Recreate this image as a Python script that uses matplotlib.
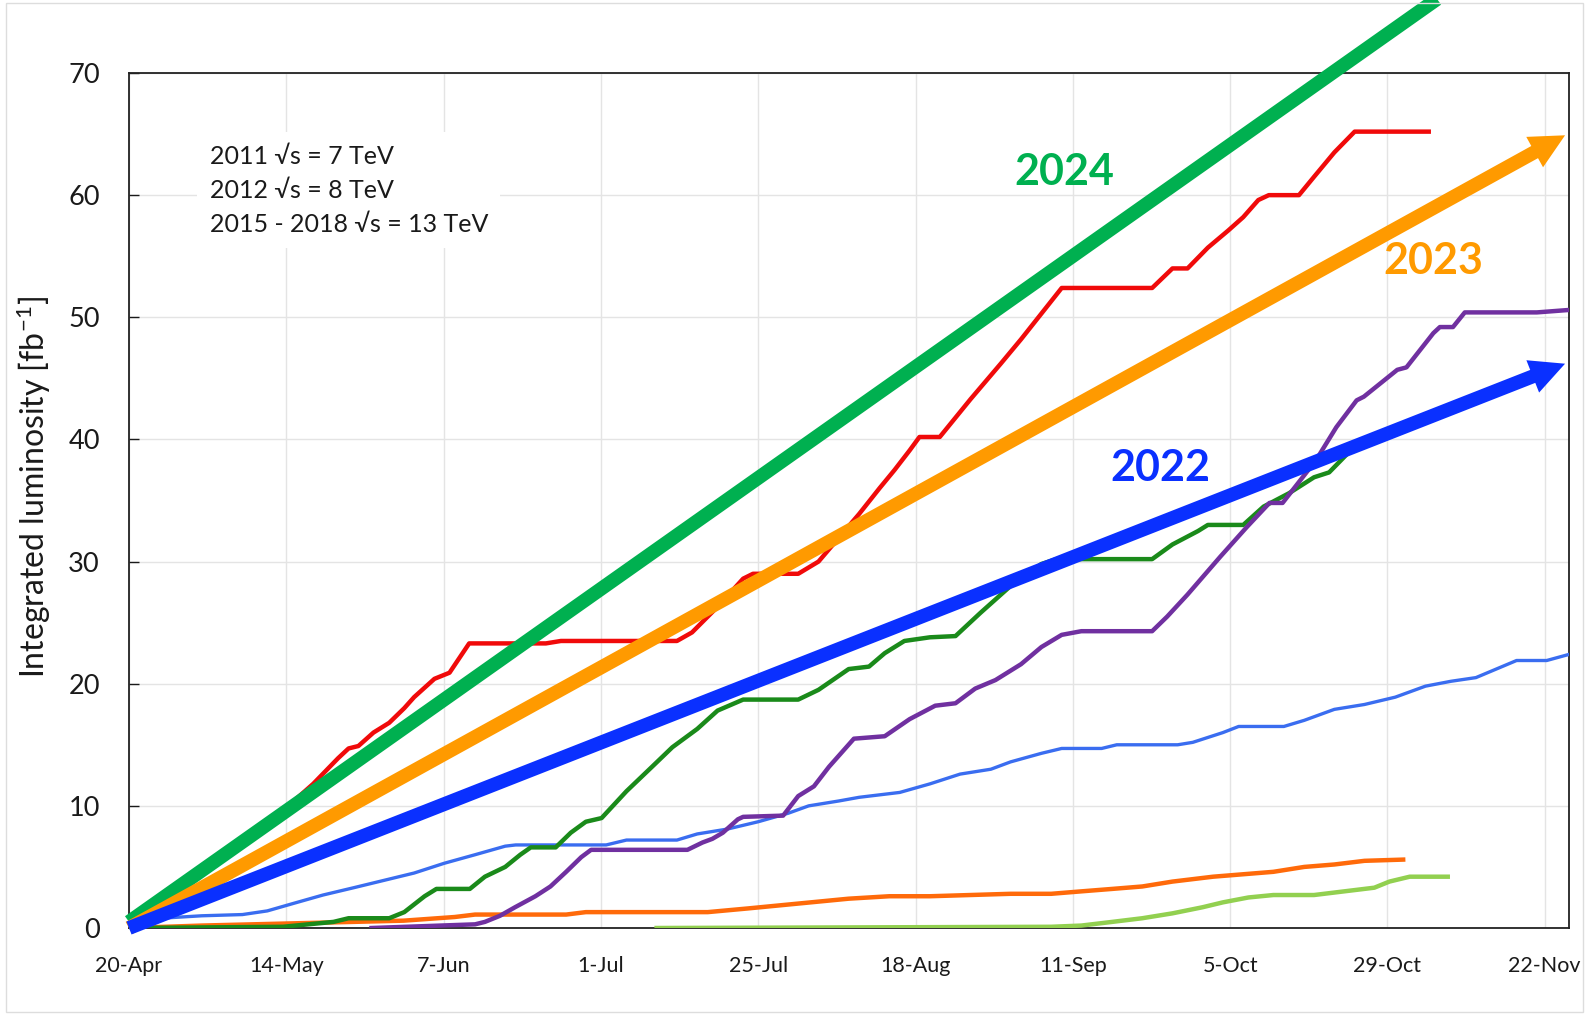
import numpy as np
import matplotlib
matplotlib.use("Agg")
import matplotlib.pyplot as plt
from matplotlib.patches import Rectangle

plt.rcParams['font.family'] = ['Lato', 'DejaVu Sans']
plt.rcParams['mathtext.fontset'] = 'custom'
plt.rcParams['mathtext.rm'] = 'Lato'
plt.rcParams['mathtext.it'] = 'Lato:italic'

# ======= data: days since 20-Apr, integrated luminosity in fb^-1 =======
tick_days = [0, 24, 48, 72, 96, 120, 144, 168, 192, 216]
tick_labels = ["20-Apr", "14-May", "7-Jun", "1-Jul", "25-Jul",
               "18-Aug", "11-Sep", "5-Oct", "29-Oct", "22-Nov"]

red_d = [0, 3.4, 6.5, 11.1, 17.3, 24.1, 28.1, 31.9, 33.5, 35.0, 37.3, 39.7, 42.0, 43.5,
         46.6, 48.9, 51.9, 63.6, 65.9, 83.6, 85.9, 89.8, 93.7, 95.2, 102.1, 105.2, 111.4,
         114.5, 116.8, 119.1, 120.6, 123.7, 128.4, 133.0, 136.1, 139.2, 142.3, 156.1, 159.2,
         161.5, 164.6, 167.7, 170.0, 172.3, 173.9, 178.5, 180.8, 183.9, 187.0, 198.3]
red_v = [0, 0.6, 1.9, 4.6, 7.0, 9.9, 11.8, 13.9, 14.7, 14.9, 16.0, 16.8, 18.0, 18.9,
         20.4, 20.9, 23.3, 23.3, 23.5, 23.5, 24.2, 26.3, 28.6, 29.0, 29.0, 30.0, 33.9,
         36.0, 37.5, 39.1, 40.2, 40.2, 43.3, 46.2, 48.2, 50.3, 52.4, 52.4, 54.0,
         54.0, 55.7, 57.1, 58.2, 59.6, 60.0, 60.0, 61.5, 63.5, 65.2, 65.2]

dgreen_d = [0, 23.5, 31.2, 33.5, 39.7, 42.0, 45.1, 46.9, 52.0, 54.3, 57.4, 59.7, 61.3,
            65.1, 67.4, 69.7, 72.1, 75.9, 79.8, 82.9, 86.7, 89.8, 93.7, 102.1, 105.2,
            109.8, 112.9, 115.3, 118.3, 122.2, 126.1, 129.9, 134.5, 139.2, 141.5, 156.1,
            159.2, 163.1, 164.6, 170.0, 173.1, 177.0, 180.8, 183.1, 186.2]
dgreen_v = [0, 0.1, 0.5, 0.8, 0.8, 1.3, 2.6, 3.2, 3.2, 4.2, 5.0, 6.0, 6.6,
            6.6, 7.8, 8.7, 9.0, 11.2, 13.2, 14.8, 16.3, 17.8, 18.7, 18.7, 19.5,
            21.2, 21.4, 22.5, 23.5, 23.8, 23.9, 25.8, 28.0, 29.8, 30.2, 30.2,
            31.4, 32.5, 33.0, 33.0, 34.5, 35.6, 36.9, 37.3, 39.0]

purple_d = [37.0, 52.8, 54.3, 56.6, 58.9, 62.0, 64.3, 66.7, 69.0, 70.5, 85.2, 87.5, 89.0,
            90.6, 92.9, 93.7, 99.8, 102.1, 104.5, 106.8, 110.6, 115.3, 119.1, 123.0,
            126.1, 129.1, 132.2, 136.1, 139.2, 142.3, 145.3, 156.1, 158.4, 161.5, 166.5,
            170.5, 174.0, 176.0, 181.1, 184.2, 187.3, 188.4, 193.5, 194.9, 199.0, 200.0,
            202.0, 203.8, 214.8, 219.7]
purple_v = [0, 0.3, 0.5, 1.0, 1.7, 2.6, 3.4, 4.6, 5.8, 6.4, 6.4, 7.0, 7.3,
            7.8, 8.9, 9.1, 9.2, 10.8, 11.6, 13.2, 15.5, 15.7, 17.1, 18.2,
            18.4, 19.6, 20.3, 21.6, 23.0, 24.0, 24.3, 24.3, 25.5, 27.3, 30.4,
            32.8, 34.8, 34.8, 38.3, 41.0, 43.2, 43.5, 45.7, 45.9, 48.7, 49.2,
            49.2, 50.4, 50.4, 50.6]

lblue_d = [0, 4.9, 11.1, 17.3, 21.1, 25.0, 29.6, 34.3, 38.9, 43.5, 48.1, 52.8, 57.4, 59.0,
           72.8, 75.9, 83.6, 86.7, 91.3, 96.0, 100.6, 103.7, 108.3, 111.4, 117.6, 122.2,
           126.8, 131.5, 134.5, 139.2, 142.3, 148.4, 150.7, 160.0, 162.3, 166.9, 169.3,
           176.2, 179.3, 183.9, 188.5, 193.2, 197.8, 201.7, 205.5, 208.6, 211.7, 216.3, 219.7]
lblue_v = [0.8, 0.8, 1.0, 1.1, 1.4, 2.0, 2.7, 3.3, 3.9, 4.5, 5.3, 6.0, 6.7, 6.8,
           6.8, 7.2, 7.2, 7.7, 8.1, 8.7, 9.4, 10.0, 10.4, 10.7, 11.1, 11.8,
           12.6, 13.0, 13.6, 14.3, 14.7, 14.7, 15.0, 15.0, 15.2, 16.0, 16.5,
           16.5, 17.0, 17.9, 18.3, 18.9, 19.8, 20.2, 20.5, 21.2, 21.9, 21.9, 22.4]

orange_d = [0, 11.1, 26.5, 41.9, 49.7, 52.8, 66.7, 69.7, 88.3, 94.4, 102.1, 109.8, 116.0,
            122.2, 134.5, 140.7, 145.3, 150.0, 154.6, 159.2, 165.4, 170.0, 174.6, 179.3,
            183.9, 188.5, 194.4]
orange_v = [0, 0.2, 0.4, 0.6, 0.9, 1.1, 1.1, 1.3, 1.3, 1.6, 2.0, 2.4, 2.6,
            2.6, 2.8, 2.8, 3.0, 3.2, 3.4, 3.8, 4.2, 4.4, 4.6, 5.0,
            5.2, 5.5, 5.6]

lgreen_d = [80.5, 140.7, 145.3, 150.0, 154.6, 159.2, 163.8, 166.9, 170.8, 174.6, 180.8,
            185.4, 190.0, 192.3, 195.4, 201.2]
lgreen_v = [0, 0.1, 0.2, 0.5, 0.8, 1.2, 1.7, 2.1, 2.5, 2.7, 2.7,
            3.0, 3.3, 3.8, 4.2, 4.2]

# projected straight-line trends (start, end) per year
trend_2024 = ([0, 215.0], [0.5, 81.9])
trend_2023 = ([0, 219.1], [0, 64.9])
trend_2022 = ([0, 219.1], [0, 46.2])

C_RED = "#F00A0A"
C_DGREEN = "#1A8A1A"
C_PURPLE = "#7030A0"
C_LBLUE = "#3A6DF0"
C_ORANGE = "#FF6A0A"
C_LGREEN = "#92D050"
C_2024 = "#00B050"
C_2023 = "#FF9A00"
C_2022 = "#0A30FF"

fig = plt.figure(figsize=(15.85, 10.15), dpi=100)
ax = fig.add_axes([129 / 1585, 1 - 928 / 1015, 1440 / 1585, 855 / 1015])

ax.plot(orange_d, orange_v, color=C_ORANGE, lw=3.2, zorder=3)
ax.plot(lgreen_d, lgreen_v, color=C_LGREEN, lw=3.2, zorder=3)
ax.plot(lblue_d, lblue_v, color=C_LBLUE, lw=2.4, zorder=3)
ax.plot(dgreen_d, dgreen_v, color=C_DGREEN, lw=3.2, zorder=3)
ax.plot(purple_d, purple_v, color=C_PURPLE, lw=3.2, zorder=3)
ax.plot(red_d, red_v, color=C_RED, lw=3.2, zorder=3)

# 2024 trend runs off the top of the figure
ax.plot(trend_2024[0], trend_2024[1], color=C_2024, lw=10, solid_capstyle="butt",
        clip_on=False, zorder=5)
for (xs, ys), col in [(trend_2023, C_2023), (trend_2022, C_2022)]:
    ax.annotate("", xy=(xs[1], ys[1]), xytext=(xs[0], ys[0]),
                arrowprops=dict(arrowstyle="simple", mutation_scale=50, fc=col, ec="none",
                                lw=0, shrinkA=0, shrinkB=0),
                zorder=5, annotation_clip=False)

ax.text(142.7, 61.9, "2024", color=C_2024, fontsize=31, fontweight="bold",
        ha="center", va="center", zorder=6)
ax.text(199.0, 54.6, "2023", color=C_2023, fontsize=31, fontweight="bold",
        ha="center", va="center", zorder=6)
ax.text(157.4, 37.7, "2022", color=C_2022, fontsize=31, fontweight="bold",
        ha="center", va="center", zorder=6)

ax.text(12.3, 60.4, "2011 \u221as = 7 TeV\n2012 \u221as = 8 TeV\n2015 - 2018 \u221as = 13 TeV",
        fontsize=18, color="#1a1a1a", ha="left", va="center", linespacing=1.58,
        bbox=dict(boxstyle="square,pad=0.5", fc="white", ec="none"), zorder=2)

ax.set_xlim(0, 219.7)
ax.set_ylim(0, 70)
ax.set_xticks(tick_days)
ax.set_xticklabels(tick_labels)
ax.set_yticks(np.arange(0, 71, 10))
ax.tick_params(axis="x", length=0, pad=20, labelsize=15.5, colors="#1a1a1a")
ax.tick_params(axis="y", direction="in", length=7, width=1, pad=21, labelsize=19.5,
               colors="#1a1a1a")
ax.grid(True, color="#e4e4e4", lw=1.0, zorder=0)
ax.set_axisbelow(True)
for sp in ax.spines.values():
    sp.set_color("#222222")
    sp.set_linewidth(1.3)

ax.set_ylabel("Integrated luminosity [fb$^{-1}$]", fontsize=23, color="#1a1a1a")
ax.yaxis.set_label_coords(-0.053, 0.516)

fig.patches.append(Rectangle((0.004, 0.003), 0.995, 0.994, transform=fig.transFigure,
                             fill=False, ec="#dddddd", lw=1.0))

fig.savefig("out.png", dpi=100)
